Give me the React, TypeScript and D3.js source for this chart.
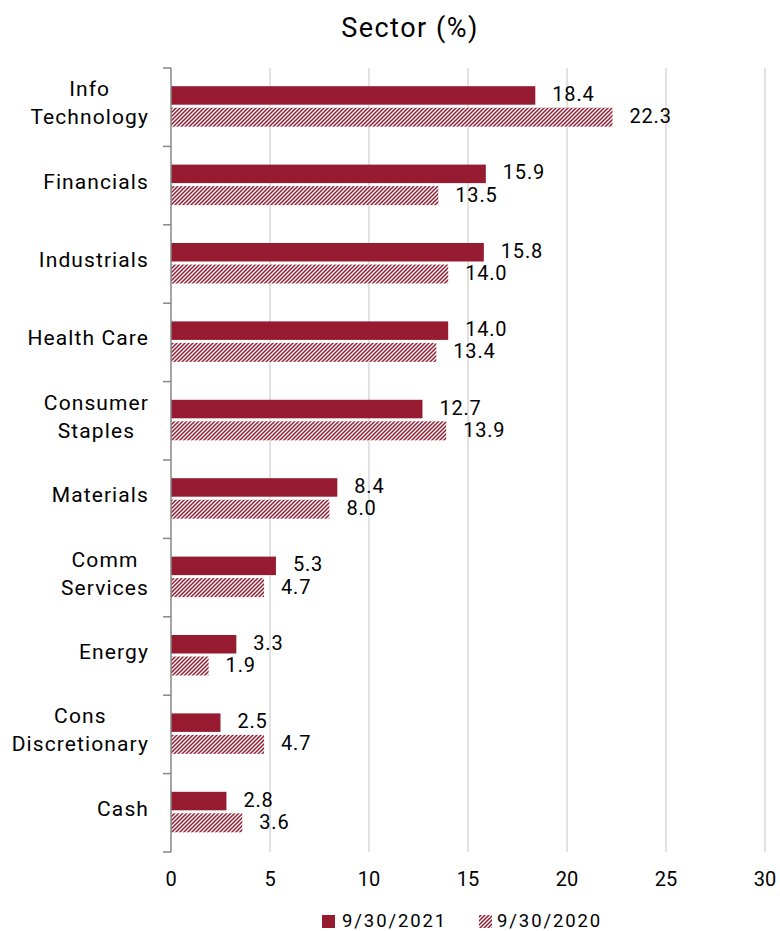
import React, { useEffect, useRef } from "react";
import * as d3 from "d3";

const categories = [
  "Info|Technology",
  "Financials",
  "Industrials",
  "Health Care",
  "Consumer|Staples",
  "Materials",
  "Comm|Services",
  "Energy",
  "Cons|Discretionary",
  "Cash",
];
const values2021 = [18.4, 15.9, 15.8, 14.0, 12.7, 8.4, 5.3, 3.3, 2.5, 2.8];
const values2020 = [22.3, 13.5, 14.0, 13.4, 13.9, 8.0, 4.7, 1.9, 4.7, 3.6];
const xTicks = [0, 5, 10, 15, 20, 25, 30];
const seriesNames = ["9/30/2021", "9/30/2020"];

const W = 780;
const H = 931;
const RED = "#961B31";
const FONT = "Roboto, 'Noto Sans', sans-serif";

export default function App() {
  const ref = useRef<SVGSVGElement | null>(null);

  useEffect(() => {
    const svg = d3.select(ref.current);
    svg.selectAll("*").remove();

    const x = d3.scaleLinear().domain([0, 30]).range([171, 765]);
    const y = d3.scaleBand<string>().domain(categories).range([68, 852]).padding(0);

    const defs = svg.append("defs");
    const pat = defs
      .append("pattern")
      .attr("id", "hatch")
      .attr("patternUnits", "userSpaceOnUse")
      .attr("width", 4)
      .attr("height", 4);
    pat.append("rect").attr("width", 4).attr("height", 4).attr("fill", "#fff");
    pat
      .append("path")
      .attr("d", "M-1,1 L1,-1 M0,4 L4,0 M3,5 L5,3")
      .attr("stroke", RED)
      .attr("stroke-width", 1.5);

    // title
    svg
      .append("text")
      .attr("x", 410)
      .attr("y", 37)
      .attr("text-anchor", "middle")
      .attr("font-family", FONT)
      .attr("font-size", 27)
      .attr("letter-spacing", 1.5)
      .attr("fill", "#000")
      .text("Sector (%)");

    // gridlines
    svg
      .append("g")
      .selectAll("line")
      .data(xTicks.filter((t) => t > 0))
      .join("line")
      .attr("x1", (d) => x(d))
      .attr("x2", (d) => x(d))
      .attr("y1", 68)
      .attr("y2", 852)
      .attr("stroke", "#d9d9d9")
      .attr("stroke-width", 1.5);

    // bars
    const g = svg.append("g");
    categories.forEach((c, i) => {
      const cy = (y(c) as number) + y.bandwidth() / 2;
      g.append("rect")
        .attr("x", x(0))
        .attr("y", cy - 21)
        .attr("width", x(values2021[i]) - x(0))
        .attr("height", 18.5)
        .attr("fill", RED);
      g.append("rect")
        .attr("x", x(0))
        .attr("y", cy + 0.5)
        .attr("width", x(values2020[i]) - x(0))
        .attr("height", 19)
        .attr("fill", "url(#hatch)");
      g.append("text")
        .attr("x", x(values2021[i]) + 17)
        .attr("y", cy - 6.3)
        .attr("font-family", FONT)
        .attr("font-size", 20)
        .attr("letter-spacing", 0.8)
        .attr("fill", "#000")
        .text(values2021[i].toFixed(1));
      g.append("text")
        .attr("x", x(values2020[i]) + 17)
        .attr("y", cy + 16)
        .attr("font-family", FONT)
        .attr("font-size", 20)
        .attr("letter-spacing", 0.8)
        .attr("fill", "#000")
        .text(values2020[i].toFixed(1));
    });

    // y axis line + ticks
    svg
      .append("line")
      .attr("x1", 171)
      .attr("x2", 171)
      .attr("y1", 68)
      .attr("y2", 852)
      .attr("stroke", "#868686")
      .attr("stroke-width", 1.5);
    const bounds = categories.map((c) => y(c) as number).concat([852]);
    svg
      .append("g")
      .selectAll("line")
      .data(bounds)
      .join("line")
      .attr("x1", 163)
      .attr("x2", 171)
      .attr("y1", (d) => d)
      .attr("y2", (d) => d)
      .attr("stroke", "#868686")
      .attr("stroke-width", 1.5);

    // category labels
    categories.forEach((c) => {
      const cy = (y(c) as number) + y.bandwidth() / 2;
      const lines = c.split("|");
      const t = svg
        .append("text")
        .attr("font-family", FONT)
        .attr("font-size", 21)
        .attr("letter-spacing", 1.1)
        .attr("fill", "#000")
        .attr("text-anchor", "middle");
      lines.forEach((ln, j) => {
        t.append("tspan")
          .attr("x", 0)
          .attr("y", cy + 3 + (j - (lines.length - 1) / 2) * 28)
          .text(ln);
      });
      const bb = (t.node() as SVGTextElement).getBBox();
      t.attr("transform", `translate(${148 - (bb.x + bb.width) + 1},0)`);
    });

    // x tick labels
    svg
      .append("g")
      .selectAll("text")
      .data(xTicks)
      .join("text")
      .attr("x", (d) => x(d))
      .attr("y", 886)
      .attr("text-anchor", "middle")
      .attr("font-family", FONT)
      .attr("font-size", 20)
      .attr("fill", "#000")
      .text((d) => String(d));

    // legend
    const lg = svg.append("g");
    lg.append("rect").attr("x", 322).attr("y", 915).attr("width", 13).attr("height", 13).attr("fill", RED);
    lg.append("text")
      .attr("x", 342)
      .attr("y", 927)
      .attr("font-family", FONT)
      .attr("font-size", 18.5)
      .attr("letter-spacing", 1.9)
      .attr("fill", "#000")
      .text(seriesNames[0]);
    lg.append("rect").attr("x", 479).attr("y", 915).attr("width", 13).attr("height", 13).attr("fill", "url(#hatch)");
    lg.append("text")
      .attr("x", 497)
      .attr("y", 927)
      .attr("font-family", FONT)
      .attr("font-size", 18.5)
      .attr("letter-spacing", 1.9)
      .attr("fill", "#000")
      .text(seriesNames[1]);
  }, []);

  return (
    <svg
      ref={ref}
      width={W}
      height={H}
      style={{ position: "absolute", left: 0, top: 0, background: "#fff" }}
    />
  );
}
